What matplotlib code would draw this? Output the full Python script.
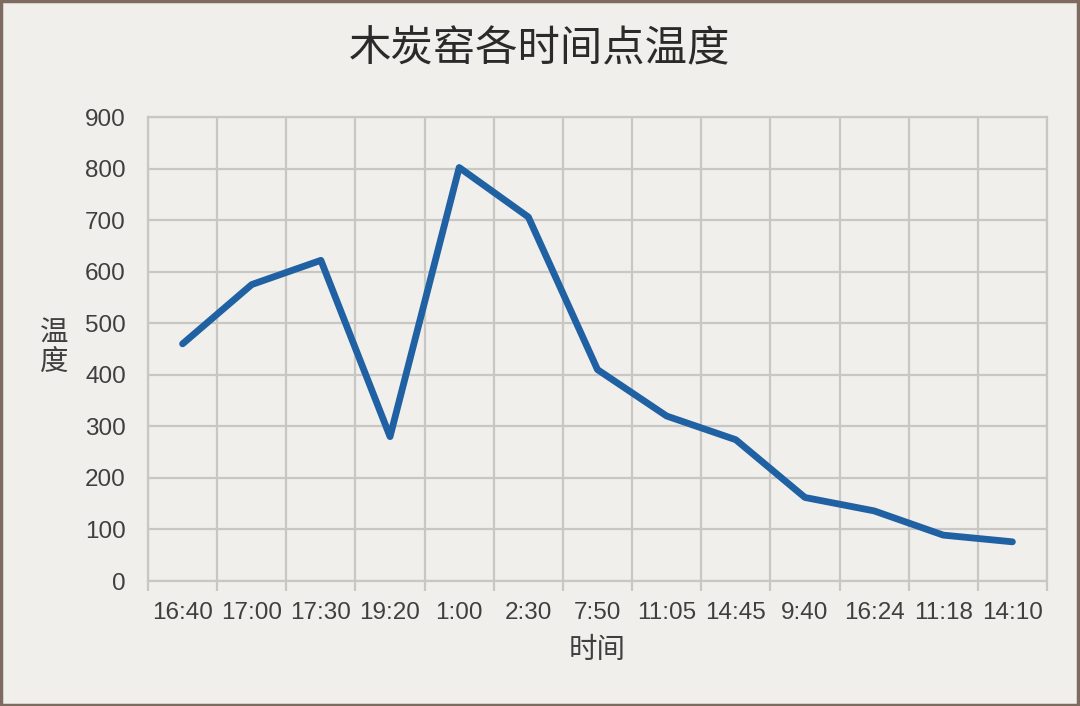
import matplotlib
matplotlib.use("Agg")
import matplotlib.pyplot as plt
from matplotlib.patches import Rectangle
import numpy as np

categories = ["16:40", "17:00", "17:30", "19:20", "1:00", "2:30", "7:50",
              "11:05", "14:45", "9:40", "16:24", "11:18", "14:10"]
temps = [460, 575, 622, 280, 802, 706, 410, 320, 274, 162, 136, 89, 76]
yticks = [0, 100, 200, 300, 400, 500, 600, 700, 800, 900]
title = "木炭窑各时间点温度"
xlabel = "时间"
ylabel = "温度"

bg = "#f1efeb"
grid_c = "#c9c7c4"
text_c = "#3f3f3f"
line_c = "#2061a3"

cjk = ["Noto Sans CJK SC", "DejaVu Sans"]
num = ["Liberation Sans", "DejaVu Sans"]

fig = plt.figure(figsize=(10.8, 7.06), dpi=100, facecolor=bg)
ax = fig.add_axes([148/1080, 1 - 581/706, (1047-148)/1080, (581-117)/706])
ax.set_facecolor(bg)

n = len(categories)
x = np.arange(n)
ax.plot(x, temps, color=line_c, lw=4.9, solid_joinstyle="round",
        solid_capstyle="round", zorder=3)

ax.set_xlim(-0.5, n - 0.5)
ax.set_ylim(0, 900)
ax.set_yticks(yticks)
ax.set_yticklabels([str(v) for v in yticks], family=num, fontsize=17.5, color=text_c)
ax.set_xticks(x)
ax.set_xticklabels(categories, family=num, fontsize=17.5, color=text_c)
ax.set_xticks(np.arange(-0.5, n, 1.0), minor=True)

ax.tick_params(axis="x", which="major", length=0, pad=15)
ax.tick_params(axis="x", which="minor", length=7, width=1.6, color=grid_c)
ax.tick_params(axis="y", which="major", length=0, pad=16)

ax.grid(True, which="major", axis="y", color=grid_c, lw=1.6, zorder=1)
ax.grid(True, which="minor", axis="x", color=grid_c, lw=1.6, zorder=1)
for s in ax.spines.values():
    s.set_color(grid_c)
    s.set_linewidth(1.6)

fig.text(539/1080, 1 - 49/706, title, family=cjk, fontsize=30.5, color="#2a2a2a",
         ha="center", va="center")
fig.text(597/1080, 1 - 650/706, xlabel, family=cjk, fontsize=20.5, color=text_c,
         ha="center", va="center")
fig.text(54/1080, 1 - 348/706, "\n".join(ylabel), family=cjk, fontsize=20.5,
         color=text_c, ha="center", va="center", linespacing=0.98)

fig.patches.append(Rectangle((0.001, 0.002), 0.997, 0.996, transform=fig.transFigure,
                             fill=False, edgecolor="#7e6b5f", lw=2.5))

fig.savefig("out.png", dpi=100, facecolor=bg)
